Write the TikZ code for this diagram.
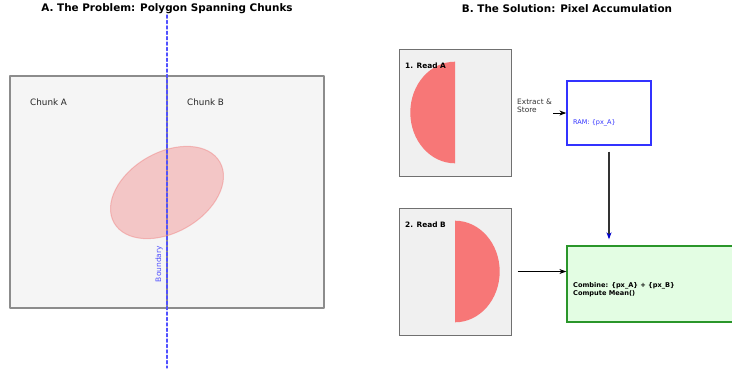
\documentclass[tikz,border=0pt]{standalone}
\usepackage{fontspec}
\setmainfont{DejaVu Sans}
\usepackage{tkz-euclide}
\usetikzlibrary{arrows.meta,positioning,calc}
\definecolor{PanelClr}{HTML}{F5F5F5}
\definecolor{ChunkClr}{HTML}{8C8C8C}
\definecolor{BlobClr}{HTML}{F08080}
\definecolor{ReadClr}{HTML}{F0F0F0}
\definecolor{ReadEdge}{HTML}{707070}
\definecolor{RamClr}{HTML}{3333FF}
\definecolor{BoundClr}{HTML}{5050FF}
\definecolor{MergeFill}{HTML}{E3FDE3}
\definecolor{MergeEdge}{HTML}{2A962A}
\definecolor{ArrowClr}{HTML}{333333}

\begin{document}
\begin{tikzpicture}[x=1pt,y=-1pt,
  title/.style={font=\fontsize{10.4}{12}\selectfont\bfseries},
  chunklabel/.style={anchor=west,inner sep=0pt,text=black!85,font=\fontsize{8.8}{10}\selectfont},
  readbox/.style={draw=ReadEdge,fill=ReadClr,line width=1pt,minimum width=112pt,minimum height=127pt,inner sep=0pt},
  readlabel/.style={anchor=west,inner sep=0pt,font=\fontsize{7.4}{8.5}\selectfont\bfseries},
  flow/.style={line width=1.3pt,color=ArrowClr,-{Stealth[length=7pt,width=5pt]}}]
\useasboundingbox (0,0) rectangle (732,368);

\tkzDefPoints{10/76/P1,324/76/P2,324/308/P3,10/308/P4,167/76/M1,167/308/M2,167/15/B1,167/368/B2,167/192.5/O}
\tkzFillPolygon[fill=PanelClr](P1,P2,P3,P4)
\tkzDrawPolygon[color=ChunkClr,line width=1.2pt](P1,P2,P3,P4)
\tkzDrawSegment[color=ChunkClr,line width=1.2pt](M1,M2)

\filldraw[fill=BlobClr,fill opacity=.4,draw=BlobClr,draw opacity=.45,line width=1pt,rotate around={30:(O)}]
  (O) ellipse [x radius=61,y radius=40];

\tkzDrawSegment[color=BoundClr,line width=1.1pt,dash pattern=on 3.2pt off 2.2pt](B1,B2)

\node[title] (titleA) at (167,9) {A. The Problem: Polygon Spanning Chunks};
\node[chunklabel] (chunkA) at (30,102) {Chunk A};
\node[chunklabel] (chunkB) at (187,102) {Chunk B};
\node[rotate=90,text=BoundClr,inner sep=0pt,font=\fontsize{7.5}{9}\selectfont] (bound) at (159,264) {Boundary};

\node[title] (titleB) at (567,9) {B. The Solution: Pixel Accumulation};

\node[readbox] (readA) at (455,112.5) {};
\node[readbox] (readB) at (455,271.5) {};
\begin{scope}
\clip (400,50) rectangle (455,175);
\fill[red,opacity=.5] (455,112.5) ellipse [x radius=44.7,y radius=50.8];
\end{scope}
\begin{scope}
\clip (455,209) rectangle (510,334);
\fill[red,opacity=.5] (455,271.5) ellipse [x radius=44.7,y radius=50.8];
\end{scope}
\node[readlabel] (labA) at (405,66) {1. Read A};
\node[readlabel] (labB) at (405,224.5) {2. Read B};

\node[draw=RamClr,line width=1.3pt,fill=white,minimum width=84pt,minimum height=64pt,inner sep=0pt] (ram) at (609,113) {};
\node[anchor=west,inner sep=0pt,text=RamClr,font=\fontsize{6.5}{8}\selectfont] (ramtxt) at (573,123) {RAM: \{px\_A\}};

\node[draw=MergeEdge,line width=1.3pt,fill=MergeFill,minimum width=193pt,minimum height=76pt,inner sep=0pt] (merge) at (663.5,284) {};
\node[anchor=west,align=left,inner sep=0pt,font=\fontsize{6.6}{8}\selectfont\bfseries] (mergetxt) at (573,290)
  {Combine: \{px\_A\} + \{px\_B\}\\Compute Mean()};

\node[anchor=west,align=left,inner sep=0pt,text=black!80,font=\fontsize{7.4}{8.2}\selectfont] (extract) at (517,106) {Extract \&\\Store};
\coordinate (exA) at (553,113);

\draw[flow,line width=1pt,color=black] (exA) -- (ram.west);
\draw[flow,-{Stealth[length=7pt,width=5pt,color=blue!80!black]},shorten <=6pt,shorten >=6pt] (ram.south) -- (ram.south |- merge.north);
\draw[flow,line width=1pt,color=black,shorten <=6pt] (readB.east) -- (readB.east -| merge.west);

\end{tikzpicture}
\end{document}
